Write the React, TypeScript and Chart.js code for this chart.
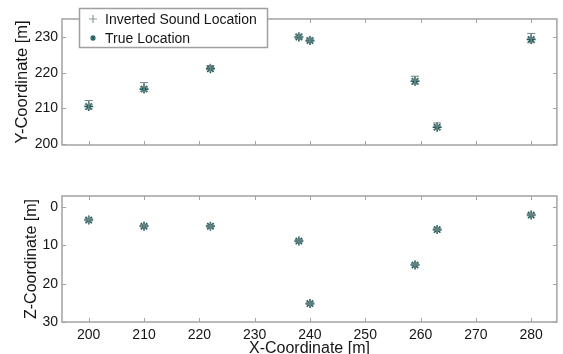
import React, { useEffect, useRef } from "react";
import { Chart, registerables } from "chart.js";

Chart.register(...registerables);

const seriesLabels = ["Inverted Sound Location", "True Location"];
const xValues = [200, 210, 222, 238, 240, 259, 263, 280];
const yTrue = [210.5, 215.4, 221.1, 230.0, 229.0, 217.6, 204.7, 229.3];
const yInverted = [211.0, 216.0, 221.4, 230.2, 229.2, 217.9, 205.0, 229.7];
const yError = [1.2, 1.2, 0.6, 0.6, 0.5, 1.1, 0.9, 1.3];
const zTrue = [3.4, 5.0, 5.0, 8.9, 25.2, 15.1, 5.9, 2.1];
const zInverted = [3.3, 4.9, 5.0, 8.8, 25.1, 15.0, 5.8, 2.0];
const zError = [0.3, 0.3, 0.3, 0.3, 0.3, 0.3, 0.3, 0.3];
const xTicks = [200, 210, 220, 230, 240, 250, 260, 270, 280];
const yTicks = [200, 210, 220, 230];
const zTicks = [0, 10, 20, 30];

const FONT = "'Liberation Sans', Arial, sans-serif";
const FRAME = "#a3a3a3";
const INV_COLOR = "#6c8484";
const TRUE_COLOR = "#1e5d5d";
const TEXT = "#151515";

const framePlugin = {
  id: "frame",
  beforeDatasetsDraw(chart: any, _args: any, opts: any) {
    const { ctx, chartArea } = chart;
    const { left, right, top, bottom } = chartArea;
    const xs = chart.scales.x;
    const ys = chart.scales.y;
    ctx.save();
    ctx.strokeStyle = FRAME;
    ctx.lineWidth = 1.5;
    ctx.strokeRect(left, top, right - left, bottom - top);
    ctx.lineWidth = 1;
    const tl = 4;
    ctx.beginPath();
    (opts.xTicks || []).forEach((v: number) => {
      const px = Math.round(xs.getPixelForValue(v)) + 0.5;
      ctx.moveTo(px, bottom);
      ctx.lineTo(px, bottom - tl);
      ctx.moveTo(px, top);
      ctx.lineTo(px, top + tl);
    });
    (opts.yTicks || []).forEach((v: number) => {
      const py = Math.round(ys.getPixelForValue(v)) + 0.5;
      ctx.moveTo(left, py);
      ctx.lineTo(left + tl, py);
      ctx.moveTo(right, py);
      ctx.lineTo(right - tl, py);
    });
    ctx.stroke();
    ctx.restore();
  },
};

const errorBarPlugin = {
  id: "errorBars",
  afterDatasetsDraw(chart: any) {
    const { ctx } = chart;
    const xs = chart.scales.x;
    const ys = chart.scales.y;
    chart.data.datasets.forEach((ds: any) => {
      if (!ds.errors) return;
      ctx.save();
      ctx.strokeStyle = ds.borderColor;
      ctx.lineWidth = 1;
      ctx.beginPath();
      ds.data.forEach((p: any, i: number) => {
        const e = ds.errors[i];
        const px = xs.getPixelForValue(p.x);
        const y1 = ys.getPixelForValue(p.y - e);
        const y2 = ys.getPixelForValue(p.y + e);
        ctx.moveTo(px, y1);
        ctx.lineTo(px, y2);
        ctx.moveTo(px - 4, y1);
        ctx.lineTo(px + 4, y1);
        ctx.moveTo(px - 4, y2);
        ctx.lineTo(px + 4, y2);
      });
      ctx.stroke();
      ctx.restore();
    });
  },
};

const legendPlugin = {
  id: "boxLegend",
  afterDraw(chart: any, _args: any, opts: any) {
    if (!opts.show) return;
    const { ctx } = chart;
    ctx.save();
    const bx = 79.5, by = 8.5, bw = 188, bh = 39;
    ctx.fillStyle = "#ffffff";
    ctx.fillRect(bx, by, bw, bh);
    ctx.strokeStyle = "#a0a0a0";
    ctx.lineWidth = 1.5;
    ctx.strokeRect(bx, by, bw, bh);
    chart.data.datasets.forEach((ds: any, i: number) => {
      const cy = 19 + i * 19;
      const cx = 93;
      ctx.strokeStyle = i === 0 ? "#8f9c9c" : ds.borderColor;
      ctx.lineWidth = 1.2;
      ctx.beginPath();
      const r = i === 0 ? 4 : 3;
      ctx.moveTo(cx - r, cy);
      ctx.lineTo(cx + r, cy);
      ctx.moveTo(cx, cy - r);
      ctx.lineTo(cx, cy + r);
      if (ds.pointStyle === "star") {
        const d = r * 0.707;
        ctx.moveTo(cx - d, cy - d);
        ctx.lineTo(cx + d, cy + d);
        ctx.moveTo(cx - d, cy + d);
        ctx.lineTo(cx + d, cy - d);
      }
      ctx.stroke();
      ctx.fillStyle = TEXT;
      ctx.font = `14px ${FONT}`;
      ctx.textBaseline = "middle";
      ctx.textAlign = "left";
      ctx.fillText(ds.label, 105, cy + 1);
    });
    ctx.restore();
  },
};

function makeDatasets(inv: number[], err: number[], tru: number[]) {
  return [
    {
      label: seriesLabels[0],
      data: xValues.map((x, i) => ({ x, y: inv[i] })),
      pointStyle: "cross",
      pointRadius: 4,
      borderColor: INV_COLOR,
      backgroundColor: INV_COLOR,
      borderWidth: 1.2,
      showLine: false,
      errors: err,
    },
    {
      label: seriesLabels[1],
      data: xValues.map((x, i) => ({ x, y: tru[i] })),
      pointStyle: "star",
      pointRadius: 4.5,
      borderColor: TRUE_COLOR,
      backgroundColor: TRUE_COLOR,
      borderWidth: 1.6,
      showLine: false,
    },
  ];
}

function setTicks(values: number[]) {
  return (s: any) => {
    s.ticks = values.map((v) => ({ value: v }));
  };
}

export default function App() {
  const topRef = useRef<HTMLCanvasElement>(null);
  const botRef = useRef<HTMLCanvasElement>(null);

  useEffect(() => {
    const top = new Chart(topRef.current as HTMLCanvasElement, {
      type: "scatter",
      data: { datasets: makeDatasets(yInverted, yError, yTrue) as any },
      plugins: [framePlugin, errorBarPlugin, legendPlugin],
      options: {
        animation: false,
        responsive: false,
        devicePixelRatio: 1,
        layout: { padding: { top: 19, right: 1, bottom: 15, left: 0 } },
        plugins: {
          legend: { display: false },
          tooltip: { enabled: false },
          frame: { xTicks, yTicks },
          boxLegend: { show: true },
        } as any,
        scales: {
          x: {
            type: "linear",
            min: 195.17,
            max: 284.65,
            display: false,
          },
          y: {
            type: "linear",
            min: 199.72,
            max: 235.05,
            afterBuildTicks: setTicks(yTicks),
            afterFit: (s: any) => {
              s.width = 62;
            },
            grid: { display: false, drawTicks: false },
            border: { display: false },
            ticks: { padding: 4, color: TEXT, font: { family: FONT, size: 14 } },
            title: {
              display: true,
              text: "Y-Coordinate [m]",
              color: TEXT,
              font: { family: FONT, size: 16.5 },
              padding: { top: 13, bottom: 0 },
            },
          },
        },
      } as any,
    });

    const bot = new Chart(botRef.current as HTMLCanvasElement, {
      type: "scatter",
      data: { datasets: makeDatasets(zInverted, zError, zTrue) as any },
      plugins: [framePlugin, errorBarPlugin, legendPlugin],
      options: {
        animation: false,
        responsive: false,
        devicePixelRatio: 1,
        layout: { padding: { top: 36, right: 1, bottom: 0, left: 0 } },
        plugins: {
          legend: { display: false },
          tooltip: { enabled: false },
          frame: { xTicks, yTicks: zTicks },
          boxLegend: { show: false },
        } as any,
        scales: {
          x: {
            type: "linear",
            min: 195.17,
            max: 284.65,
            afterBuildTicks: setTicks(xTicks),
            afterFit: (s: any) => {
              s.height = 38;
            },
            grid: { display: false, drawTicks: false },
            border: { display: false },
            ticks: { padding: 5, color: TEXT, maxRotation: 0, font: { family: FONT, size: 14 } },
            title: {
              display: true,
              text: "X-Coordinate [m]",
              color: TEXT,
              font: { family: FONT, size: 16 },
              padding: { top: 0, bottom: 2 },
            },
          },
          y: {
            type: "linear",
            reverse: true,
            min: -2.87,
            max: 30,
            afterBuildTicks: setTicks(zTicks),
            afterFit: (s: any) => {
              s.width = 62;
            },
            grid: { display: false, drawTicks: false },
            border: { display: false },
            ticks: { padding: 4, color: TEXT, font: { family: FONT, size: 14 } },
            title: {
              display: true,
              text: "Z-Coordinate [m]",
              color: TEXT,
              font: { family: FONT, size: 16 },
              padding: { top: 22, bottom: 0 },
            },
          },
        },
      } as any,
    });

    return () => {
      top.destroy();
      bot.destroy();
    };
  }, []);

  return (
    <div
      style={{
        position: "fixed",
        left: 0,
        top: 0,
        width: 563,
        height: 354,
        overflow: "hidden",
        background: "#ffffff",
      }}
    >
      <canvas
        ref={topRef}
        width={563}
        height={160}
        style={{ position: "absolute", left: 0, top: 0, width: 563, height: 160 }}
      />
      <canvas
        ref={botRef}
        width={563}
        height={200}
        style={{ position: "absolute", left: 0, top: 160, width: 563, height: 200 }}
      />
    </div>
  );
}
